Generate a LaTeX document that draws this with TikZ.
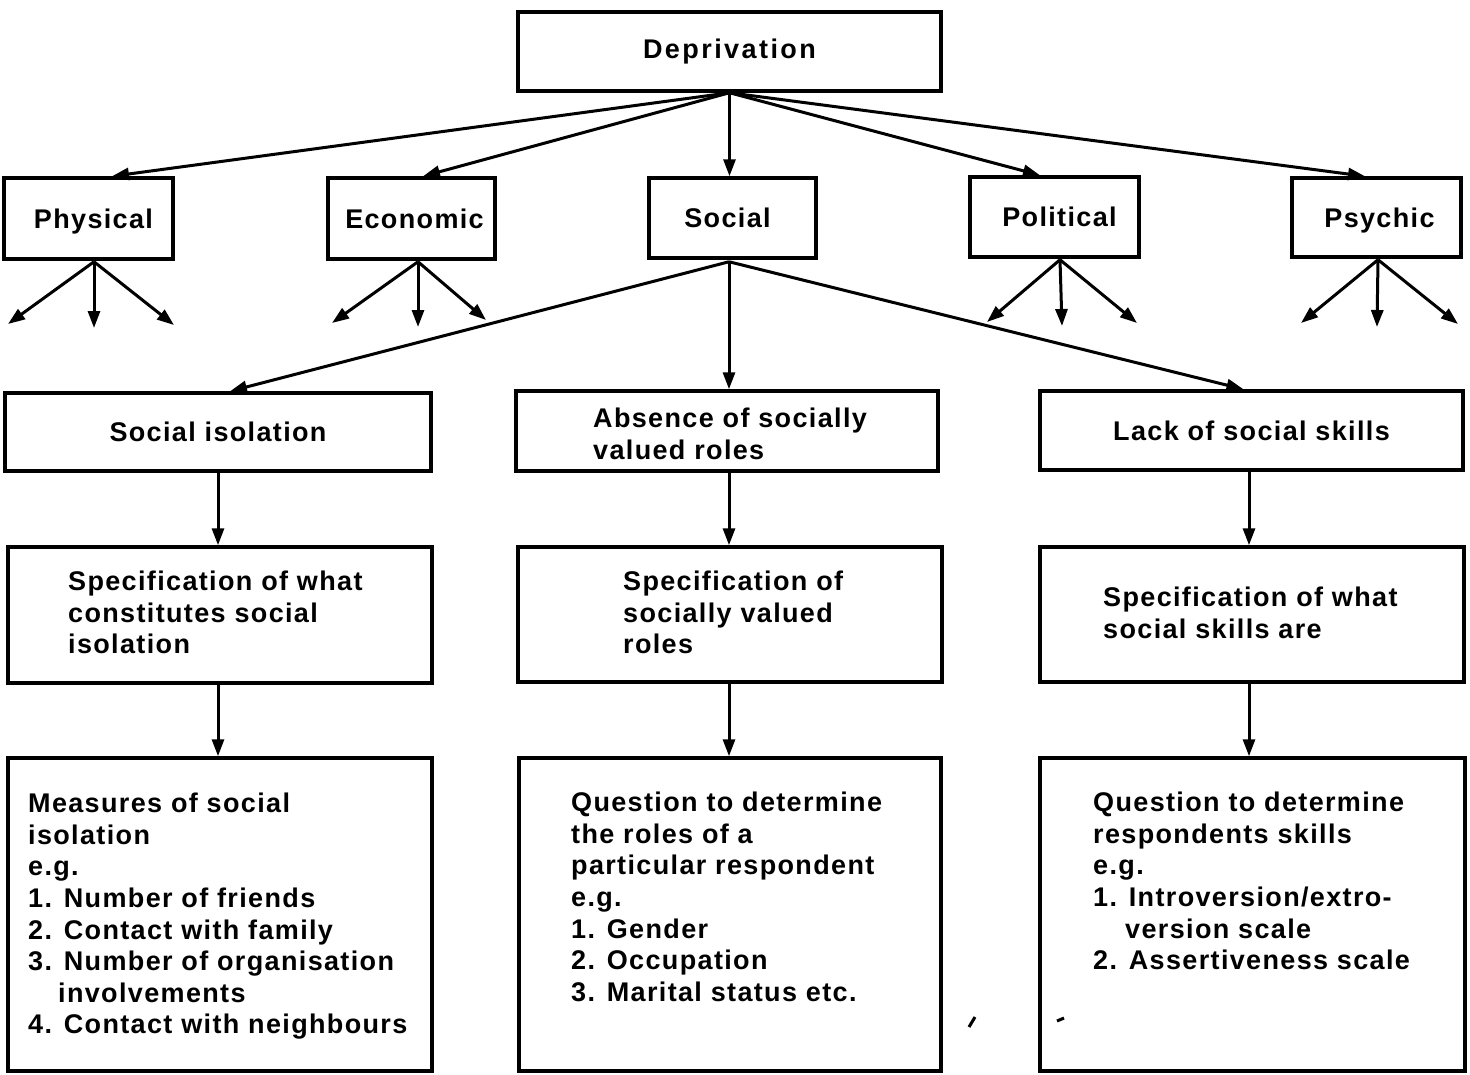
\documentclass[tikz,border=0pt]{standalone}
\usepackage{fontspec}
\setmainfont{Liberation Sans}[LetterSpace=5]
\usetikzlibrary{arrows.meta,calc}
\newcommand\labfont{\bfseries\fontsize{27}{31.6}\selectfont}
\begin{document}
\begin{tikzpicture}[x=1pt,y=-1pt,
  box/.style={draw, line width=3.5pt, inner sep=0pt, font=\labfont, text height=19.3pt, text depth=0pt},
  arr/.style={line width=3pt, -{Triangle[length=17pt,width=12pt]}},
  txt/.style={inner sep=0pt, align=left, anchor=north west, font=\labfont}]
\useasboundingbox (0,0) rectangle (1470,1074);
% top
\node[box, minimum width=423pt, minimum height=79pt] (dep) at (729.5,51.5) {\raisebox{3pt}{\addfontfeatures{LetterSpace=9}Deprivation}};
% second row
\node[box, minimum width=169pt, minimum height=81pt] (phys) at (88.5,218.5) {\hspace*{10pt}Physical};
\node[box, minimum width=167pt, minimum height=81pt] (econ) at (411.5,218.5) {\hspace*{6pt}Economic};
\node[box, minimum width=167pt, minimum height=80pt] (soc) at (732.5,218) {Social\hspace*{10pt}};
\node[box, minimum width=169pt, minimum height=80pt] (pol) at (1054.5,217) {\hspace*{10pt}Political};
\node[box, minimum width=169pt, minimum height=79pt] (psy) at (1376.5,217.5) {\hspace*{6pt}Psychic};
% third row
\node[box, minimum width=426pt, minimum height=78pt] (siso) at (218,432) {Social isolation};
\node[box, minimum width=422pt, minimum height=80pt] (abs) at (727,431) {};
\node[txt] (abst) at (593,408) {Absence of socially\\valued roles};
\node[box, minimum width=423pt, minimum height=79pt] (lack) at (1251.5,430.5) {Lack of social skills};
% fourth row
\node[box, minimum width=424pt, minimum height=136pt] (spec1) at (220,615) {};
\node[txt] (spec1t) at (68,571) {Specification of what\\constitutes social\\isolation};
\node[box, minimum width=424pt, minimum height=135pt] (spec2) at (730,614.5) {};
\node[txt] (spec2t) at (623,571) {Specification of\\socially valued\\roles};
\node[box, minimum width=424pt, minimum height=135pt] (spec3) at (1252,614.5) {};
\node[txt] (spec3t) at (1103,587) {Specification of what\\social skills are};
% fifth row
\node[box, minimum width=424pt, minimum height=313pt] (meas1) at (220,914.5) {};
\node[txt] (meas1t) at (28,793) {Measures of social\\isolation\\e.g.\\1. Number of friends\\2. Contact with family\\3. Number of organisation\\\hspace*{30pt}involvements\\4. Contact with neighbours};
\node[box, minimum width=422pt, minimum height=313pt] (meas2) at (730,914.5) {};
\node[txt] (meas2t) at (571,792) {Question to determine\\the roles of a\\particular respondent\\e.g.\\1. Gender\\2. Occupation\\3. Marital status etc.};
\node[box, minimum width=425pt, minimum height=313pt] (meas3) at (1252.5,914.5) {};
\node[txt] (meas3t) at (1093,792) {Question to determine\\respondents skills\\e.g.\\1. Introversion/extro-\\\hspace*{32pt}version scale\\2. Assertiveness scale};
% connectors from Deprivation
\draw[arr] (dep.south) -- ([xshift=23.5pt]phys.north);
\draw[arr] (dep.south) -- ([xshift=11.5pt]econ.north);
\draw[arr] (dep.south) -- (dep.south |- soc.north);
\draw[arr] (dep.south) -- ([xshift=-14.5pt]pol.north);
\draw[arr] (dep.south) -- ([xshift=-11.5pt]psy.north);
% fan-outs
\coordinate (pb) at ([xshift=5.5pt,yshift=-1pt]phys.south);
\coordinate (p1) at (8,324); \coordinate (p2) at (94,328); \coordinate (p3) at (174,325);
\draw[arr] (pb) -- (p1); \draw[arr] (pb) -- (p2); \draw[arr] (pb) -- (p3);
\coordinate (eb) at ([xshift=6.5pt,yshift=-1pt]econ.south);
\coordinate (e1) at (332,323); \coordinate (e2) at (418,327); \coordinate (e3) at (486,320);
\draw[arr] (eb) -- (e1); \draw[arr] (eb) -- (e2); \draw[arr] (eb) -- (e3);
\coordinate (ob) at ([xshift=5.5pt,yshift=-1pt]pol.south);
\coordinate (o1) at (987,322); \coordinate (o2) at (1062,326); \coordinate (o3) at (1137,323);
\draw[arr] (ob) -- (o1); \draw[arr] (ob) -- (o2); \draw[arr] (ob) -- (o3);
\coordinate (yb) at ([xshift=1.5pt,yshift=-1pt]psy.south);
\coordinate (y1) at (1301,323); \coordinate (y2) at (1377,327); \coordinate (y3) at (1458,324);
\draw[arr] (yb) -- (y1); \draw[arr] (yb) -- (y2); \draw[arr] (yb) -- (y3);
% social to third row
\coordinate (sb) at ([xshift=-3.5pt,yshift=-2pt]soc.south);
\draw[arr] (sb) -- ([xshift=12pt]siso.north);
\draw[arr] (sb) -- (sb |- abs.north);
\draw[arr] (sb) -- ([xshift=-8pt]lack.north);
% verticals
\draw[arr] (siso.south) -- (siso.south |- spec1.north);
\draw[arr] ([xshift=2pt]abs.south) -- ([xshift=2pt]abs.south |- spec2.north);
\draw[arr] ([xshift=-2.5pt]lack.south) -- ([xshift=-2.5pt]lack.south |- spec3.north);
\draw[arr] ([xshift=-2pt]spec1.south) -- ([xshift=-2pt]spec1.south |- meas1.north);
\draw[arr] ([xshift=-1pt]spec2.south) -- ([xshift=-1pt]spec2.south |- meas2.north);
\draw[arr] ([xshift=-3pt]spec3.south) -- ([xshift=-3pt]spec3.south |- meas3.north);
% stray marks
\draw[line width=3pt] (969,1027) -- (975,1017);
\draw[line width=3pt] (1057,1021) -- (1064,1018);
\end{tikzpicture}
\end{document}
